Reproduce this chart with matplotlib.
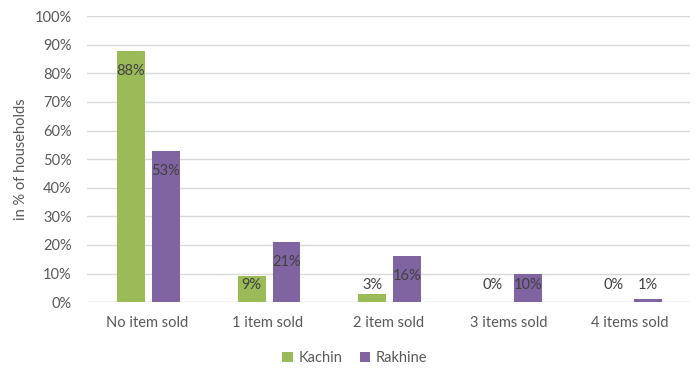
import matplotlib
matplotlib.use("Agg")
import matplotlib.pyplot as plt
import numpy as np

categories = ["No item sold", "1 item sold", "2 item sold", "3 items sold", "4 items sold"]
kachin = [88, 9, 3, 0, 0]
rakhine = [53, 21, 16, 10, 1]
series_names = ["Kachin", "Rakhine"]
yticks = list(range(0, 101, 10))

plt.rcParams['font.family'] = ['Lato', 'DejaVu Sans']

fig = plt.figure(figsize=(6.96, 3.68), dpi=100)
ax = fig.add_axes([0.125, 0.179, 0.866, 0.777])

x = np.arange(len(categories))
w = 0.232
gap = 0.058
colors = ["#9BBB59", "#8064A2"]
offsets = [-(w + gap) / 2, (w + gap) / 2]

for vals, name, col, off in zip([kachin, rakhine], series_names, colors, offsets):
    ax.bar(x + off + 0.01, vals, width=w, color=col, label=name, zorder=3)
    for xi, v in zip(x + off + 0.01, vals):
        ypos = max(v - 7, 6)
        ax.text(xi, ypos, f"{v}%", ha="center", va="center", fontsize=10.5,
                color="#404040", zorder=4)

ax.set_xlim(-0.5, len(categories) - 0.5)
ax.set_ylim(0, 100)
ax.set_yticks(yticks)
ax.set_yticklabels([f"{t}%" for t in yticks])
ax.set_xticks(x)
ax.set_xticklabels(categories)
ax.tick_params(axis="both", length=0, labelsize=10.5, colors="#595959")
ax.tick_params(axis="x", pad=10)
ax.tick_params(axis="y", pad=11)
ax.yaxis.grid(True, color="#D9D9D9", linewidth=1, zorder=0)
for s in ax.spines.values():
    s.set_visible(False)
ax.axhline(0, color="#D9D9D9", linewidth=1, zorder=2)

ax.set_ylabel("in % of households", fontsize=10.5, color="#595959", labelpad=5)

fig.legend(loc="center", bbox_to_anchor=(0.51, 0.026), ncol=2, frameon=False,
           fontsize=10.5, handlelength=0.7, handleheight=0.7, columnspacing=1.2,
           handletextpad=0.4, labelcolor="#595959", borderpad=0)

fig.savefig("out.png", dpi=100)
